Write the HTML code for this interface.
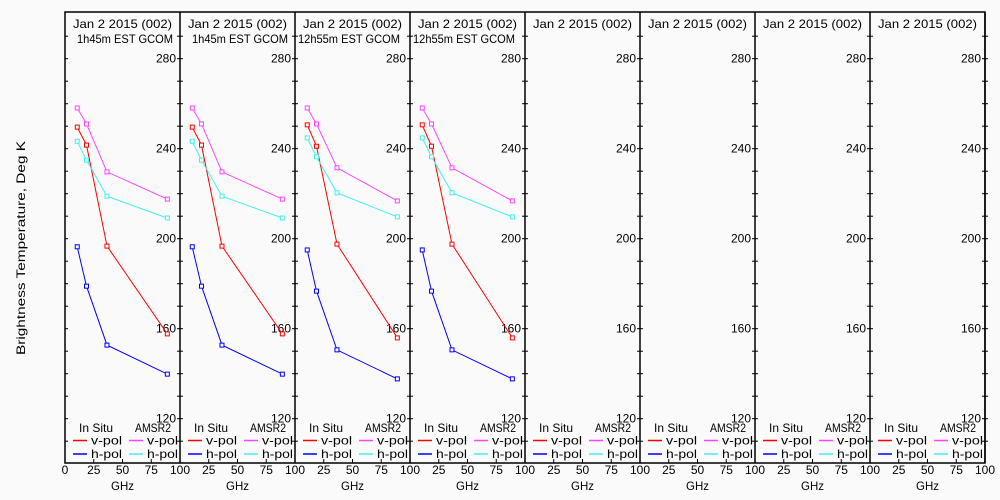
<!DOCTYPE html>
<html><head><meta charset="utf-8"><style>
html,body{margin:0;padding:0;background:#fafafa;}
svg{display:block;}
text{font-family:"Liberation Sans",sans-serif;font-size:12px;fill:#000;}
</style></head><body>
<svg id="chart" width="1000" height="500" xmlns="http://www.w3.org/2000/svg">
<rect width="1000" height="500" fill="#fafafa"/>
<text transform="translate(25,248) rotate(-90)" text-anchor="middle" font-size="14" textLength="214" lengthAdjust="spacingAndGlyphs">Brightness Temperature, Deg K</text>
<g id="panels"></g>
</svg>
<script>
const freqs = [10.65, 18.7, 36.5, 89];
const titles1 = ["Jan 2 2015 (002)","Jan 2 2015 (002)","Jan 2 2015 (002)","Jan 2 2015 (002)","Jan 2 2015 (002)","Jan 2 2015 (002)","Jan 2 2015 (002)","Jan 2 2015 (002)"];
const titles2 = ["1h45m EST GCOM","1h45m EST GCOM","12h55m EST GCOM","12h55m EST GCOM","","","",""];
const inSituV = [[249.6,241.6,196.7,157.7],[249.6,241.6,196.7,157.7],[250.6,241.1,197.6,155.9],[250.6,241.1,197.6,155.9],null,null,null,null];
const inSituH = [[196.4,178.9,152.7,139.8],[196.4,178.9,152.7,139.8],[195,176.7,150.6,137.7],[195,176.7,150.6,137.7],null,null,null,null];
const amsrV = [[258.1,251,229.7,217.6],[258.1,251,229.7,217.6],[258.1,251,231.5,216.8],[258.1,251,231.5,216.8],null,null,null,null];
const amsrH = [[243.3,234.9,218.9,209.2],[243.3,234.9,218.9,209.2],[244.8,236.4,220.4,209.7],[244.8,236.4,220.4,209.7],null,null,null,null];
const yTicks = [120,160,200,240,280];
const xTicks = [0,25,50,75,100];

const NS="http://www.w3.org/2000/svg";
const root=document.getElementById('panels');
const X0=65, PW=115, TOP=12, BOT=463;
function yS(v){return 418.7-(v-120)*2.25;}
function xS(p,g){return X0+p*PW+g*1.15;}
function mk(tag,attrs,parent){const e=document.createElementNS(NS,tag);for(const k in attrs)e.setAttribute(k,attrs[k]);(parent||root).appendChild(e);return e;}

let f=mk('rect',{x:X0,y:TOP,width:PW*8,height:BOT-TOP,fill:'none',stroke:'#000','stroke-width':1.5});



const series=[[inSituV,'#ff0000','in-situ-v-pol'],[inSituH,'#0000ff','in-situ-h-pol'],[amsrV,'#ff44ff','amsr2-v-pol'],[amsrH,'#44eeee','amsr2-h-pol']];

for(let p=0;p<8;p++){
  const g=mk('g',{});
  
  
  const L=X0+p*PW, R=L+PW;
  let l=mk('line',{x1:R,y1:TOP,x2:R,y2:BOT,stroke:'#000','stroke-width':1.5},g);
  
  
  for(let v=110;v<=300;v+=10){
    const y=yS(v); if(y<TOP+2||y>BOT-2) continue;
    let t=mk('line',{x1:R-3,y1:y,x2:R+3,y2:y,stroke:'#000'},g);
    
    
    if(p===0){let t2=mk('line',{x1:L,y1:y,x2:L+3,y2:y,stroke:'#000'},g);
      
      }
  }
  yTicks.forEach(v=>{
    let t=mk('text',{x:R-4,y:yS(v)+4,'text-anchor':'end'},g);
    t.textContent=v;
    
    
  });
  xTicks.forEach((v,i)=>{
    if(p>0&&i===0) return;
    const x=xS(p,v);
    let tk=mk('line',{x1:x,y1:BOT,x2:x,y2:BOT-4,stroke:'#000'},g);
    
    
    let t=mk('text',{x:x,y:474,'text-anchor':'middle'},g);
    t.textContent=v;
    
    
  });
  let xt=mk('text',{x:L+46,y:490,'font-size':14,textLength:23,lengthAdjust:'spacingAndGlyphs'},g);
  xt.textContent='GHz';
  
  
  let t1=mk('text',{x:L+8,y:28,'font-size':13,textLength:99,lengthAdjust:'spacingAndGlyphs'},g);
  t1.textContent=titles1[p];
  
  
  if(titles2[p]){let t2=mk('text',{x:L+(titles2[p].length>14?3:12),y:43,'font-size':13,textLength:(titles2[p].length>14?102:96),lengthAdjust:'spacingAndGlyphs'},g);
    t2.textContent=titles2[p];
    
    }
  let a=mk('text',{x:L+14,y:432,textLength:34,lengthAdjust:'spacingAndGlyphs'},g); a.textContent='In Situ';
  
  
  let b=mk('text',{x:L+70,y:432,textLength:36,lengthAdjust:'spacingAndGlyphs'},g); b.textContent='AMSR2';
  
  
  [[8,440.5,'#ff0000','v-pol'],[8,454,'#0000ff','h-pol'],[64,440.5,'#ff44ff','v-pol'],[64,454,'#44eeee','h-pol']].forEach(e=>{
    let ln=mk('line',{x1:L+e[0],y1:e[1],x2:L+e[0]+14,y2:e[1],stroke:e[2],'stroke-width':1.5},g);
    
    
    let tx=mk('text',{x:L+e[0]+18,y:e[1]+4,textLength:31,lengthAdjust:'spacingAndGlyphs'},g); tx.textContent=e[3];
    
    
  });
  series.forEach(s=>{
    const vals=s[0][p]; if(!vals) return;
    const pts=vals.map((v,i)=>xS(p,freqs[i]).toFixed(1)+','+yS(v).toFixed(1)).join(' ');
    let pl=mk('polyline',{points:pts,fill:'none',stroke:s[1],'stroke-width':1},g);
    
    
    vals.forEach((v,i)=>{
      let m=mk('rect',{x:xS(p,freqs[i])-2,y:yS(v)-2,width:4,height:4,fill:'#fafafa',stroke:s[1],'stroke-width':1},g);
      
      
    });
  });
}
</script>
</body></html>
